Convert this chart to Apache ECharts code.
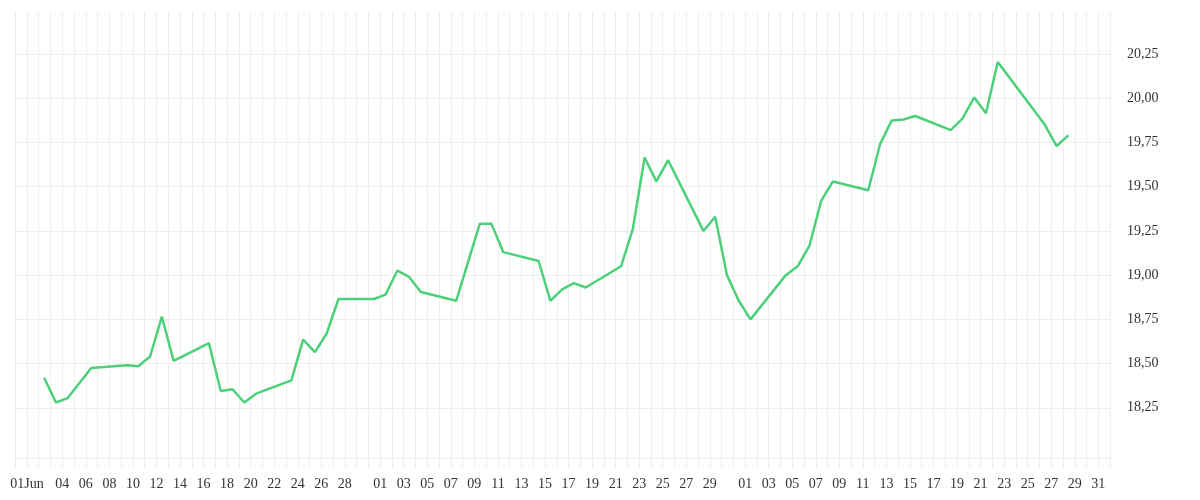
<!DOCTYPE html>
<html>
<head>
<meta charset="utf-8">
<title>Price chart</title>
<script src="https://cdn.jsdelivr.net/npm/echarts@6/dist/echarts.min.js"></script>
<style>
    html, body { margin: 0; padding: 0; background: #fff; }
    #chart { width: 1200px; height: 500px; }
</style>
</head>
<body>
<div id="chart"></div>
<script>
// Trading days (2025) and closing values
const dates = [
    '2025-06-02', '2025-06-03', '2025-06-04', '2025-06-05', '2025-06-06',
    '2025-06-09', '2025-06-10', '2025-06-11', '2025-06-12', '2025-06-13',
    '2025-06-16', '2025-06-17', '2025-06-18', '2025-06-19', '2025-06-20',
    '2025-06-23', '2025-06-24', '2025-06-25', '2025-06-26', '2025-06-27',
    '2025-06-30', '2025-07-01', '2025-07-02', '2025-07-03', '2025-07-04',
    '2025-07-07', '2025-07-09', '2025-07-10', '2025-07-11',
    '2025-07-14', '2025-07-15', '2025-07-16', '2025-07-17', '2025-07-18',
    '2025-07-21', '2025-07-22', '2025-07-23', '2025-07-24', '2025-07-25',
    '2025-07-28', '2025-07-29', '2025-07-30', '2025-07-31', '2025-08-01',
    '2025-08-04', '2025-08-05', '2025-08-06', '2025-08-07', '2025-08-08',
    '2025-08-11', '2025-08-12', '2025-08-13', '2025-08-14', '2025-08-15',
    '2025-08-18', '2025-08-19', '2025-08-20', '2025-08-21', '2025-08-22',
    '2025-08-26', '2025-08-27', '2025-08-28'
];
const values = [
    18.42, 18.28, 18.305, 18.39, 18.475,
    18.49, 18.485, 18.54, 18.765, 18.515,
    18.615, 18.345, 18.355, 18.28, 18.33,
    18.405, 18.635, 18.565, 18.67, 18.865,
    18.865, 18.89, 19.025, 18.99, 18.905,
    18.855, 19.29, 19.29, 19.13,
    19.08, 18.855, 18.92, 18.955, 18.93,
    19.05, 19.26, 19.665, 19.53, 19.65,
    19.25, 19.33, 19.0, 18.855, 18.75,
    19.0, 19.05, 19.165, 19.42, 19.53,
    19.48, 19.74, 19.875, 19.88, 19.9,
    19.82, 19.885, 20.005, 19.915, 20.205,
    19.85, 19.73, 19.79
];

// Dates that carry a label on the x axis, and their text
const xTickDates = [
    '2025-06-01', '2025-06-04', '2025-06-06', '2025-06-08', '2025-06-10', '2025-06-12',
    '2025-06-14', '2025-06-16', '2025-06-18', '2025-06-20', '2025-06-22', '2025-06-24',
    '2025-06-26', '2025-06-28',
    '2025-07-01', '2025-07-03', '2025-07-05', '2025-07-07', '2025-07-09', '2025-07-11',
    '2025-07-13', '2025-07-15', '2025-07-17', '2025-07-19', '2025-07-21', '2025-07-23',
    '2025-07-25', '2025-07-27', '2025-07-29',
    '2025-08-01', '2025-08-03', '2025-08-05', '2025-08-07', '2025-08-09', '2025-08-11',
    '2025-08-13', '2025-08-15', '2025-08-17', '2025-08-19', '2025-08-21', '2025-08-23',
    '2025-08-25', '2025-08-27', '2025-08-29', '2025-08-31'
];
const xTickText = xTickDates.map((d, i) => d.slice(8) + (i === 0 ? 'Jun' : ''));

// Value axis ticks
const yTicks = [18.25, 18.5, 18.75, 19.0, 19.25, 19.5, 19.75, 20.0, 20.25];

const DAY = 86400000;
const FONT = 'Liberation Serif';

function dayKey(ts) {
    const d = new Date(ts);
    const mm = String(d.getMonth() + 1).padStart(2, '0');
    const dd = String(d.getDate()).padStart(2, '0');
    return d.getFullYear() + '-' + mm + '-' + dd;
}

function initChart() {
    const chart = echarts.init(document.getElementById('chart'), null, { renderer: 'canvas' });

    const seriesData = dates.map((d, i) => [d + ' 11:00', values[i]]);

    const option = {
        animation: false,
        backgroundColor: '#fff',
        grid: {
            left: 15.2,
            right: 89.9,
            top: 12,
            bottom: 42,
            containLabel: false
        },
        xAxis: {
            type: 'time',
            min: '2025-05-31 00:00',
            max: '2025-09-01 00:00',
            minInterval: DAY,
            maxInterval: DAY,
            axisLine: { show: true, lineStyle: { color: '#eeeeee', width: 1 } },
            axisTick: { show: true, length: 10, lineStyle: { color: '#eeeeee' } },
            splitLine: { show: true, lineStyle: { color: '#eeeeee', width: 1 } },
            axisLabel: {
                margin: 19,
                color: '#333',
                fontFamily: FONT,
                fontSize: 14,
                hideOverlap: false,
                showMinLabel: true,
                showMaxLabel: true,
                formatter: function (value) {
                    const idx = xTickDates.indexOf(dayKey(value));
                    return idx >= 0 ? xTickText[idx] : '';
                }
            }
        },
        yAxis: {
            type: 'value',
            position: 'right',
            min: 17.966,
            max: 20.488,
            axisLine: { show: false },
            axisTick: { show: false, customValues: yTicks },
            splitLine: { show: true, lineStyle: { color: '#eeeeee', width: 1 } },
            axisLabel: {
                customValues: yTicks,
                margin: 17,
                padding: [3, 0, 0, 0],
                color: '#333',
                fontFamily: FONT,
                fontSize: 14,
                formatter: v => v.toFixed(2).replace('.', ',')
            }
        },
        series: [{
            type: 'line',
            data: seriesData,
            showSymbol: false,
            smooth: false,
            lineStyle: { color: '#4cd07a', width: 2.5 },
            itemStyle: { color: '#4cd07a' }
        }]
    };

    chart.setOption(option);
}

initChart();
</script>
</body>
</html>
